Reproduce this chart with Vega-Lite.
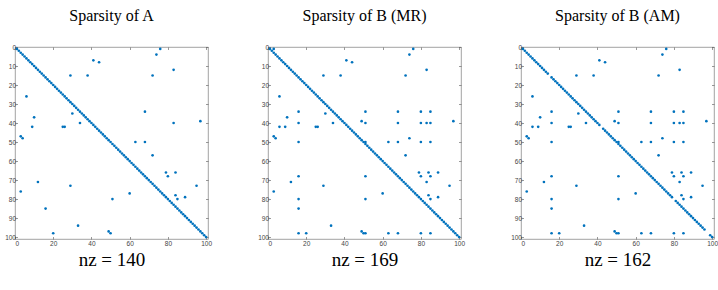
{
"$schema": "https://vega.github.io/schema/vega-lite/v6.json",
"padding": {"left": 4, "top": 7, "right": 4, "bottom": 5},
"background": "white",
"datasets": {
"diag": [{"c":1,"r":1},{"c":2,"r":2},{"c":3,"r":3},{"c":4,"r":4},{"c":5,"r":5},{"c":6,"r":6},{"c":7,"r":7},{"c":8,"r":8},{"c":9,"r":9},{"c":10,"r":10},{"c":11,"r":11},{"c":12,"r":12},{"c":13,"r":13},{"c":14,"r":14},{"c":15,"r":15},{"c":16,"r":16},{"c":17,"r":17},{"c":18,"r":18},{"c":19,"r":19},{"c":20,"r":20},{"c":21,"r":21},{"c":22,"r":22},{"c":23,"r":23},{"c":24,"r":24},{"c":25,"r":25},{"c":26,"r":26},{"c":27,"r":27},{"c":28,"r":28},{"c":29,"r":29},{"c":30,"r":30},{"c":31,"r":31},{"c":32,"r":32},{"c":33,"r":33},{"c":34,"r":34},{"c":35,"r":35},{"c":36,"r":36},{"c":37,"r":37},{"c":38,"r":38},{"c":39,"r":39},{"c":40,"r":40},{"c":41,"r":41},{"c":42,"r":42},{"c":43,"r":43},{"c":44,"r":44},{"c":45,"r":45},{"c":46,"r":46},{"c":47,"r":47},{"c":48,"r":48},{"c":49,"r":49},{"c":50,"r":50},{"c":51,"r":51},{"c":52,"r":52},{"c":53,"r":53},{"c":54,"r":54},{"c":55,"r":55},{"c":56,"r":56},{"c":57,"r":57},{"c":58,"r":58},{"c":59,"r":59},{"c":60,"r":60},{"c":61,"r":61},{"c":62,"r":62},{"c":63,"r":63},{"c":64,"r":64},{"c":65,"r":65},{"c":66,"r":66},{"c":67,"r":67},{"c":68,"r":68},{"c":69,"r":69},{"c":70,"r":70},{"c":71,"r":71},{"c":72,"r":72},{"c":73,"r":73},{"c":74,"r":74},{"c":75,"r":75},{"c":76,"r":76},{"c":77,"r":77},{"c":78,"r":78},{"c":79,"r":79},{"c":80,"r":80},{"c":81,"r":81},{"c":82,"r":82},{"c":83,"r":83},{"c":84,"r":84},{"c":85,"r":85},{"c":86,"r":86},{"c":87,"r":87},{"c":88,"r":88},{"c":89,"r":89},{"c":90,"r":90},{"c":91,"r":91},{"c":92,"r":92},{"c":93,"r":93},{"c":94,"r":94},{"c":95,"r":95},{"c":96,"r":96},{"c":97,"r":97},{"c":98,"r":98},{"c":99,"r":99},{"c":100,"r":100}],
"diagC": [{"c":1,"r":1},{"c":2,"r":2},{"c":3,"r":3},{"c":4,"r":4},{"c":5,"r":5},{"c":6,"r":6},{"c":7,"r":7},{"c":8,"r":8},{"c":9,"r":9},{"c":10,"r":10},{"c":11,"r":11},{"c":12,"r":12},{"c":13,"r":13},{"c":14,"r":14},{"c":16,"r":16},{"c":17,"r":17},{"c":18,"r":18},{"c":19,"r":19},{"c":20,"r":20},{"c":21,"r":21},{"c":22,"r":22},{"c":23,"r":23},{"c":24,"r":24},{"c":25,"r":25},{"c":26,"r":26},{"c":27,"r":27},{"c":28,"r":28},{"c":29,"r":29},{"c":30,"r":30},{"c":31,"r":31},{"c":32,"r":32},{"c":33,"r":33},{"c":34,"r":34},{"c":35,"r":35},{"c":36,"r":36},{"c":37,"r":37},{"c":38,"r":38},{"c":39,"r":39},{"c":40,"r":40},{"c":41,"r":41},{"c":43,"r":43},{"c":44,"r":44},{"c":45,"r":45},{"c":46,"r":46},{"c":47,"r":47},{"c":48,"r":48},{"c":49,"r":49},{"c":50,"r":50},{"c":51,"r":51},{"c":52,"r":52},{"c":53,"r":53},{"c":54,"r":54},{"c":55,"r":55},{"c":56,"r":56},{"c":57,"r":57},{"c":58,"r":58},{"c":59,"r":59},{"c":60,"r":60},{"c":61,"r":61},{"c":62,"r":62},{"c":63,"r":63},{"c":64,"r":64},{"c":65,"r":65},{"c":66,"r":66},{"c":67,"r":67},{"c":68,"r":68},{"c":69,"r":69},{"c":70,"r":70},{"c":71,"r":71},{"c":72,"r":72},{"c":73,"r":73},{"c":74,"r":74},{"c":75,"r":75},{"c":76,"r":76},{"c":77,"r":77},{"c":78,"r":78},{"c":79,"r":79},{"c":81,"r":81},{"c":82,"r":82},{"c":83,"r":83},{"c":84,"r":84},{"c":85,"r":85},{"c":86,"r":86},{"c":87,"r":87},{"c":88,"r":88},{"c":89,"r":89},{"c":90,"r":90},{"c":91,"r":91},{"c":92,"r":92},{"c":93,"r":93},{"c":94,"r":94},{"c":95,"r":95},{"c":96,"r":96},{"c":99,"r":99},{"c":100,"r":100}],
"offA": [{"c":76,"r":1},{"c":74,"r":4},{"c":41,"r":7},{"c":44,"r":8},{"c":83,"r":12},{"c":29,"r":15},{"c":38,"r":15},{"c":72,"r":15},{"c":6,"r":26},{"c":68,"r":34},{"c":30,"r":35},{"c":10,"r":37},{"c":97,"r":39},{"c":34,"r":40},{"c":83,"r":40},{"c":9,"r":42},{"c":25,"r":42},{"c":26,"r":42},{"c":3,"r":47},{"c":4,"r":48},{"c":63,"r":50},{"c":68,"r":50},{"c":72,"r":57},{"c":79,"r":66},{"c":84,"r":66},{"c":80,"r":68},{"c":12,"r":71},{"c":29,"r":73},{"c":95,"r":73},{"c":3,"r":76},{"c":60,"r":77},{"c":84,"r":78},{"c":89,"r":79},{"c":51,"r":80},{"c":85,"r":80},{"c":16,"r":85},{"c":33,"r":94},{"c":49,"r":97},{"c":20,"r":98},{"c":50,"r":98}],
"offB": [{"c":3,"r":1},{"c":76,"r":1},{"c":74,"r":4},{"c":41,"r":7},{"c":44,"r":8},{"c":83,"r":12},{"c":29,"r":15},{"c":38,"r":15},{"c":72,"r":15},{"c":6,"r":26},{"c":16,"r":34},{"c":51,"r":34},{"c":68,"r":34},{"c":80,"r":34},{"c":85,"r":34},{"c":30,"r":35},{"c":10,"r":37},{"c":49,"r":39},{"c":97,"r":39},{"c":16,"r":40},{"c":34,"r":40},{"c":51,"r":40},{"c":68,"r":40},{"c":80,"r":40},{"c":83,"r":40},{"c":85,"r":40},{"c":6,"r":42},{"c":9,"r":42},{"c":25,"r":42},{"c":26,"r":42},{"c":3,"r":47},{"c":4,"r":48},{"c":74,"r":48},{"c":16,"r":50},{"c":51,"r":50},{"c":63,"r":50},{"c":68,"r":50},{"c":80,"r":50},{"c":85,"r":50},{"c":72,"r":57},{"c":79,"r":66},{"c":84,"r":66},{"c":89,"r":66},{"c":16,"r":68},{"c":51,"r":68},{"c":80,"r":68},{"c":85,"r":68},{"c":12,"r":71},{"c":83,"r":71},{"c":29,"r":73},{"c":95,"r":73},{"c":3,"r":76},{"c":60,"r":77},{"c":84,"r":78},{"c":89,"r":79},{"c":16,"r":80},{"c":51,"r":80},{"c":85,"r":80},{"c":16,"r":85},{"c":33,"r":94},{"c":49,"r":97},{"c":16,"r":98},{"c":20,"r":98},{"c":50,"r":98},{"c":51,"r":98},{"c":63,"r":98},{"c":68,"r":98},{"c":80,"r":98},{"c":85,"r":98}],
"offC": [{"c":76,"r":1},{"c":74,"r":4},{"c":41,"r":7},{"c":44,"r":8},{"c":83,"r":12},{"c":29,"r":15},{"c":38,"r":15},{"c":72,"r":15},{"c":6,"r":26},{"c":16,"r":34},{"c":51,"r":34},{"c":68,"r":34},{"c":80,"r":34},{"c":85,"r":34},{"c":30,"r":35},{"c":10,"r":37},{"c":49,"r":39},{"c":97,"r":39},{"c":16,"r":40},{"c":34,"r":40},{"c":51,"r":40},{"c":68,"r":40},{"c":80,"r":40},{"c":83,"r":40},{"c":85,"r":40},{"c":6,"r":42},{"c":9,"r":42},{"c":25,"r":42},{"c":26,"r":42},{"c":3,"r":47},{"c":4,"r":48},{"c":74,"r":48},{"c":16,"r":50},{"c":51,"r":50},{"c":63,"r":50},{"c":68,"r":50},{"c":80,"r":50},{"c":85,"r":50},{"c":72,"r":57},{"c":79,"r":66},{"c":84,"r":66},{"c":89,"r":66},{"c":16,"r":68},{"c":51,"r":68},{"c":80,"r":68},{"c":85,"r":68},{"c":12,"r":71},{"c":83,"r":71},{"c":29,"r":73},{"c":95,"r":73},{"c":3,"r":76},{"c":60,"r":77},{"c":84,"r":78},{"c":89,"r":79},{"c":16,"r":80},{"c":51,"r":80},{"c":85,"r":80},{"c":16,"r":85},{"c":33,"r":94},{"c":49,"r":97},{"c":16,"r":98},{"c":20,"r":98},{"c":50,"r":98},{"c":51,"r":98},{"c":63,"r":98},{"c":68,"r":98},{"c":80,"r":98},{"c":85,"r":98}]
},
"hconcat": [
{
"width": 193, "height": 192,
"title": {"text": "Sparsity of A"},
"layer": [
{"data": {"name": "diag"}, "mark": {"type": "circle", "size": 7, "color": "#0072BD", "opacity": 1},
 "encoding": {
  "x": {"field": "c", "type": "quantitative", "scale": {"domain": [0, 101], "nice": false, "zero": false}, "axis": {"orient": "bottom", "values": [0, 20, 40, 60, 80, 100], "title": "nz = 140"}},
  "y": {"field": "r", "type": "quantitative", "scale": {"domain": [0, 101], "nice": false, "zero": false, "reverse": true}, "axis": {"orient": "left", "values": [0, 10, 20, 30, 40, 50, 60, 70, 80, 90, 100], "title": null}}}},
{"data": {"name": "offA"}, "mark": {"type": "circle", "size": 7, "color": "#0072BD", "opacity": 1},
 "encoding": {"x": {"field": "c", "type": "quantitative", "axis": null}, "y": {"field": "r", "type": "quantitative", "axis": null}}},
{"data": {"name": "offA"}, "mark": {"type": "circle", "opacity": 0},
 "encoding": {
  "x": {"field": "c", "type": "quantitative", "axis": {"orient": "top", "values": [0, 20, 40, 60, 80, 100], "labels": false, "title": null}},
  "y": {"field": "r", "type": "quantitative", "axis": {"orient": "right", "values": [0, 10, 20, 30, 40, 50, 60, 70, 80, 90, 100], "labels": false, "title": null}}}}
],
"resolve": {"axis": {"x": "independent", "y": "independent"}}
},
{
"width": 193, "height": 192,
"title": {"text": "Sparsity of B (MR)"},
"layer": [
{"data": {"name": "diag"}, "mark": {"type": "circle", "size": 7, "color": "#0072BD", "opacity": 1},
 "encoding": {
  "x": {"field": "c", "type": "quantitative", "scale": {"domain": [0, 101], "nice": false, "zero": false}, "axis": {"orient": "bottom", "values": [0, 20, 40, 60, 80, 100], "title": "nz = 169"}},
  "y": {"field": "r", "type": "quantitative", "scale": {"domain": [0, 101], "nice": false, "zero": false, "reverse": true}, "axis": {"orient": "left", "values": [0, 10, 20, 30, 40, 50, 60, 70, 80, 90, 100], "title": null}}}},
{"data": {"name": "offB"}, "mark": {"type": "circle", "size": 7, "color": "#0072BD", "opacity": 1},
 "encoding": {"x": {"field": "c", "type": "quantitative", "axis": null}, "y": {"field": "r", "type": "quantitative", "axis": null}}},
{"data": {"name": "offB"}, "mark": {"type": "circle", "opacity": 0},
 "encoding": {
  "x": {"field": "c", "type": "quantitative", "axis": {"orient": "top", "values": [0, 20, 40, 60, 80, 100], "labels": false, "title": null}},
  "y": {"field": "r", "type": "quantitative", "axis": {"orient": "right", "values": [0, 10, 20, 30, 40, 50, 60, 70, 80, 90, 100], "labels": false, "title": null}}}}
],
"resolve": {"axis": {"x": "independent", "y": "independent"}}
},
{
"width": 193, "height": 192,
"title": {"text": "Sparsity of B (AM)"},
"layer": [
{"data": {"name": "diagC"}, "mark": {"type": "circle", "size": 7, "color": "#0072BD", "opacity": 1},
 "encoding": {
  "x": {"field": "c", "type": "quantitative", "scale": {"domain": [0, 101], "nice": false, "zero": false}, "axis": {"orient": "bottom", "values": [0, 20, 40, 60, 80, 100], "title": "nz = 162"}},
  "y": {"field": "r", "type": "quantitative", "scale": {"domain": [0, 101], "nice": false, "zero": false, "reverse": true}, "axis": {"orient": "left", "values": [0, 10, 20, 30, 40, 50, 60, 70, 80, 90, 100], "title": null}}}},
{"data": {"name": "offC"}, "mark": {"type": "circle", "size": 7, "color": "#0072BD", "opacity": 1},
 "encoding": {"x": {"field": "c", "type": "quantitative", "axis": null}, "y": {"field": "r", "type": "quantitative", "axis": null}}},
{"data": {"name": "offC"}, "mark": {"type": "circle", "opacity": 0},
 "encoding": {
  "x": {"field": "c", "type": "quantitative", "axis": {"orient": "top", "values": [0, 20, 40, 60, 80, 100], "labels": false, "title": null}},
  "y": {"field": "r", "type": "quantitative", "axis": {"orient": "right", "values": [0, 10, 20, 30, 40, 50, 60, 70, 80, 90, 100], "labels": false, "title": null}}}}
],
"resolve": {"axis": {"x": "independent", "y": "independent"}}
}
],
"spacing": 45,
"config": {
 "view": {"stroke": "#8c8c8c", "strokeWidth": 0.8},
 "axis": {"domain": false, "grid": false, "tickSize": -2.5, "tickColor": "#555555", "tickWidth": 0.6, "labelFont": "Liberation Sans", "labelFontSize": 6.5, "labelColor": "#444444", "titleFont": "Liberation Serif", "titleFontSize": 19, "titleFontWeight": "normal", "titleColor": "#000000", "titlePadding": 3},
 "axisX": {"labelPadding": 4},
 "axisY": {"labelPadding": 2},
 "title": {"font": "Liberation Serif", "fontSize": 16, "fontWeight": "normal", "color": "#000000", "frame": "group", "anchor": "middle", "offset": 20}
}
}
